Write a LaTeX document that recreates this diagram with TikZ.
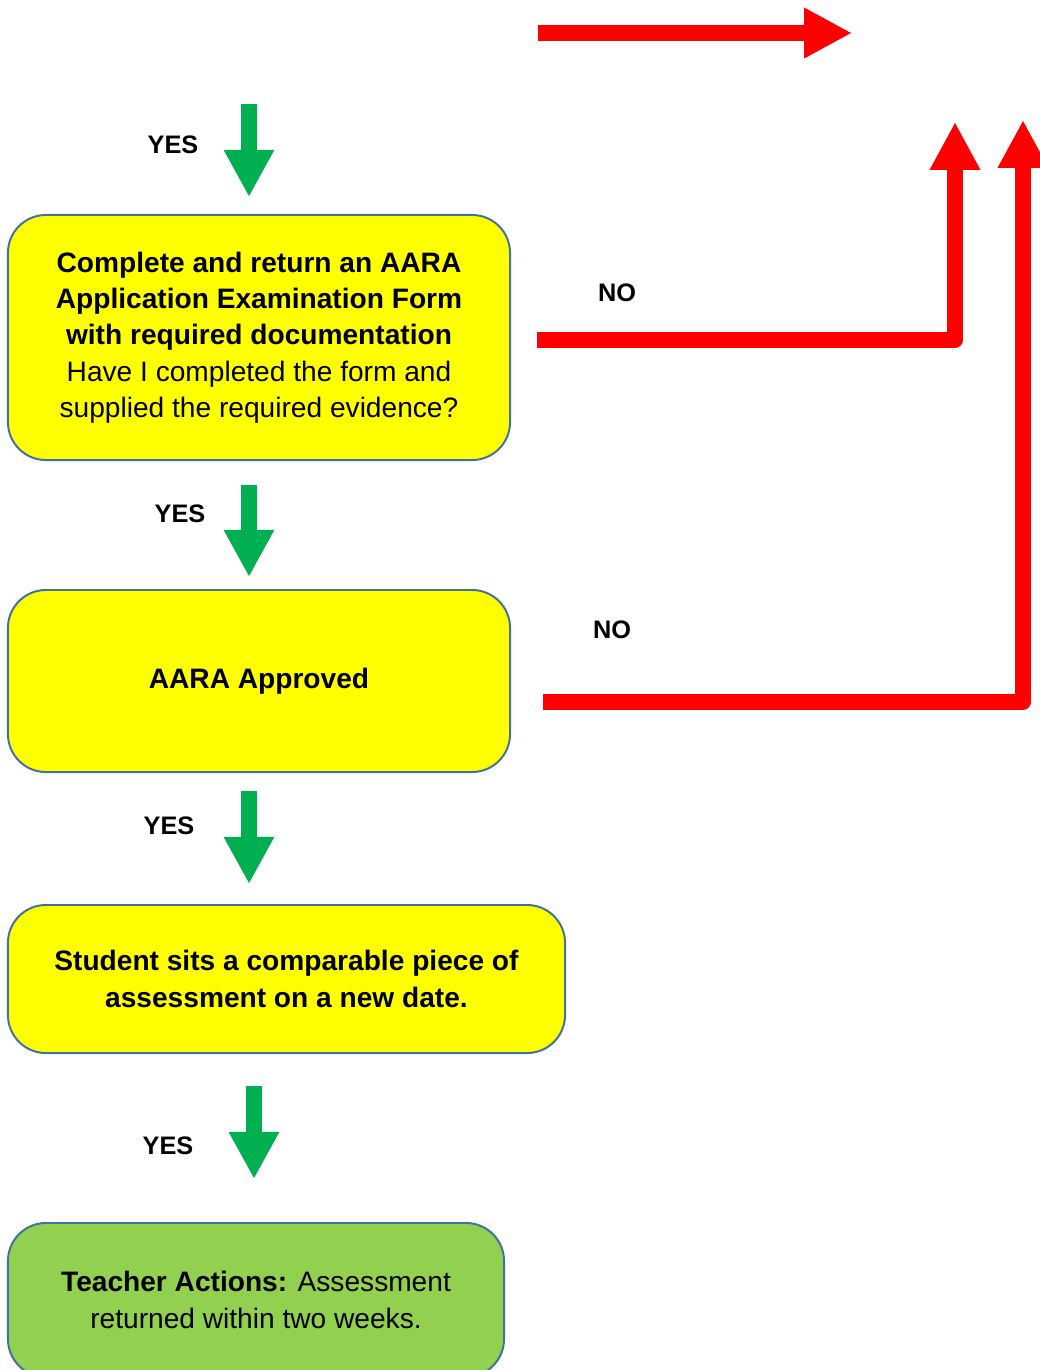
\documentclass[tikz,border=0pt]{standalone}
\usepackage{fontspec}
\setmainfont{Liberation Sans}
\usepackage{xcolor}
\usepackage{tikz}
\usetikzlibrary{arrows.meta}

\definecolor{boxyellow}{HTML}{FFFF00}
\definecolor{boxgreen}{HTML}{92D050}
\definecolor{boxline}{HTML}{41719C}
\definecolor{yesgreen}{HTML}{00B050}
\definecolor{nored}{HTML}{FF0000}

\tikzset{
  stage/.style={draw=boxline, line width=1.4pt, rounded corners=27pt, fill=boxyellow,
    align=center, inner sep=0pt, font=\fontsize{20}{25.8}\selectfont},
  yesarrow/.style={draw=yesgreen, line width=11.3pt, -{Triangle[length=33.5pt,width=33.5pt]}},
  noarrow/.style={draw=nored, line width=11pt, line join=round, -{Triangle[length=34pt,width=33.5pt]}},
  answer/.style={font=\fontsize{18}{22}\selectfont\bfseries},
}

\begin{document}
\begin{tikzpicture}[x=0.025cm, y=-0.025cm]
    \useasboundingbox (0,0) rectangle (1040,1370);

    % boxes
    \node[stage, minimum width=12.55cm, minimum height=6.125cm] (form) at (259,337.5)
        {\textbf{Complete and return an AARA}\\ \textbf{Application Examination Form}\\
         \textbf{with required documentation}\\ Have I completed the form and\\
         supplied the required evidence?};
    \node[stage, minimum width=12.55cm, minimum height=4.55cm] (approved) at (259,681)
        {\textbf{AARA Approved}};
    \node[stage, minimum width=13.925cm, minimum height=3.7cm] (sits) at (286.5,979)
        {\textbf{Student sits a comparable piece of}\\ \textbf{assessment on a new date.}};
    \node[stage, fill=boxgreen, minimum width=12.4cm, minimum height=3.85cm] (teacher) at (256,1300)
        {\textbf{Teacher Actions:} Assessment\\ returned within two weeks.};

    % labels
    \node[answer] (yes1) at (173,145) {YES};
    \node[answer] (yes2) at (180,514) {YES};
    \node[answer] (yes3) at (169,826) {YES};
    \node[answer] (yes4) at (168,1146) {YES};
    \node[answer] (no1) at (617,293) {NO};
    \node[answer] (no2) at (612,630) {NO};

    % arrow ends
    \coordinate (a0) at (249,104);
    \coordinate (b0) at (249,197);
    \coordinate (a1) at (249,485);
    \coordinate (b1) at (249,577);
    \coordinate (a2) at (249,791);
    \coordinate (b2) at (249,884);
    \coordinate (a3) at (254,1086);
    \coordinate (b3) at (254,1179);

    \coordinate (r0) at (538,33);
    \coordinate (s0) at (852,33);
    \coordinate (r1) at (537,340);
    \coordinate (k1) at (955,340);
    \coordinate (s1) at (955,122);
    \coordinate (r2) at (543,702);
    \coordinate (k2) at (1023,702);
    \coordinate (s2) at (1023,120);

    \draw[yesarrow] (a0) -- (b0);
    \draw[yesarrow] (a1) -- (b1);
    \draw[yesarrow] (a2) -- (b2);
    \draw[yesarrow] (a3) -- (b3);

    \draw[noarrow] (r0) -- (s0);
    \draw[noarrow] (r1) -- (k1) -- (s1);
    \draw[noarrow] (r2) -- (k2) -- (s2);
\end{tikzpicture}
\end{document}
